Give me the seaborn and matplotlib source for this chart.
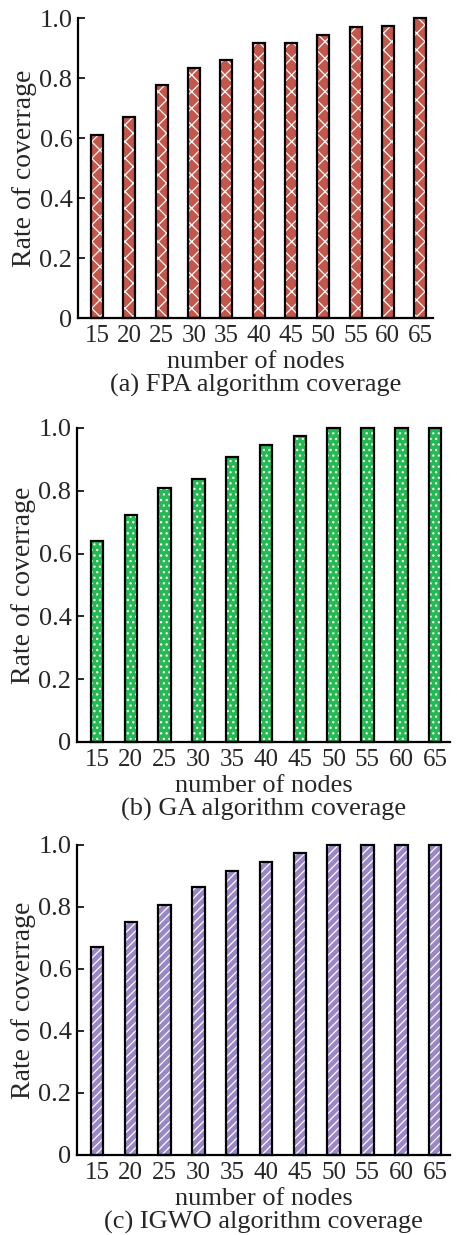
import matplotlib
matplotlib.use("Agg")
import matplotlib.pyplot as plt
import seaborn as sns
import pandas as pd

nodes = ["15", "20", "25", "30", "35", "40", "45", "50", "55", "60", "65"]
fpa_coverage = [0.61, 0.67, 0.777, 0.834, 0.861, 0.918, 0.918, 0.944, 0.97, 0.973, 1.0]
ga_coverage = [0.64, 0.722, 0.809, 0.837, 0.906, 0.946, 0.975, 1.0, 1.0, 1.0, 1.0]
igwo_coverage = [0.672, 0.75, 0.808, 0.863, 0.916, 0.944, 0.974, 1.0, 1.0, 1.0, 1.0]
y_ticks = [0, 0.2, 0.4, 0.6, 0.8, 1.0]
y_tick_labels = ["0", "0.2", "0.4", "0.6", "0.8", "1.0"]

sns.set_theme(style="white")
plt.rcParams["font.family"] = ["Liberation Serif", "DejaVu Serif"]
plt.rcParams["hatch.linewidth"] = 0.9

fig = plt.figure(figsize=(4.57, 12.35), dpi=100)

panels = [
    (fpa_coverage, "#c4564a", "xx", "(a) FPA algorithm coverage",
     [0.1707, 0.7425, 0.777, 0.2429], (-0.59, 10.4)),
    (ga_coverage, "#22bb52", "...", "(b) GA algorithm coverage",
     [0.1685, 0.3992, 0.8162, 0.2543], (-0.59, 10.44)),
    (igwo_coverage, "#9a86c8", "////", "(c) IGWO algorithm coverage",
     [0.1685, 0.0648, 0.8162, 0.2510], (-0.59, 10.44)),
]

for values, color, hatch, caption, rect, xlim in panels:
    ax = fig.add_axes(rect)
    df = pd.DataFrame({"nodes": nodes, "coverage": values})
    # filled bars carrying a white hatch
    sns.barplot(data=df, x="nodes", y="coverage", ax=ax, color=color,
                saturation=1, width=0.37, edgecolor="white", linewidth=0)
    for p in ax.patches:
        p.set_hatch(hatch)
    # black outlines on top
    sns.barplot(data=df, x="nodes", y="coverage", ax=ax, fill=False,
                width=0.37, edgecolor="black", linewidth=1.6)
    for p in ax.patches:
        p.set_clip_on(False)

    ax.set_xlim(*xlim)
    ax.set_ylim(0, 1.0)
    ax.set_yticks(y_ticks)
    ax.set_yticklabels(y_tick_labels)
    ax.set_ylabel("Rate of coverrage", fontsize=20, labelpad=2)
    ax.set_xlabel("number of nodes\n" + caption, fontsize=19, labelpad=3,
                  linespacing=1.02)
    for side in ("top", "right"):
        ax.spines[side].set_visible(False)
    for side in ("left", "bottom"):
        ax.spines[side].set_linewidth(1.6)
        ax.spines[side].set_color("black")
    ax.tick_params(axis="y", direction="in", length=5, width=1.4,
                   labelsize=19, pad=4, left=True)
    ax.tick_params(axis="x", length=0, labelsize=18, pad=5)
    ax.grid(False)

fig.savefig("out.png", dpi=100)
